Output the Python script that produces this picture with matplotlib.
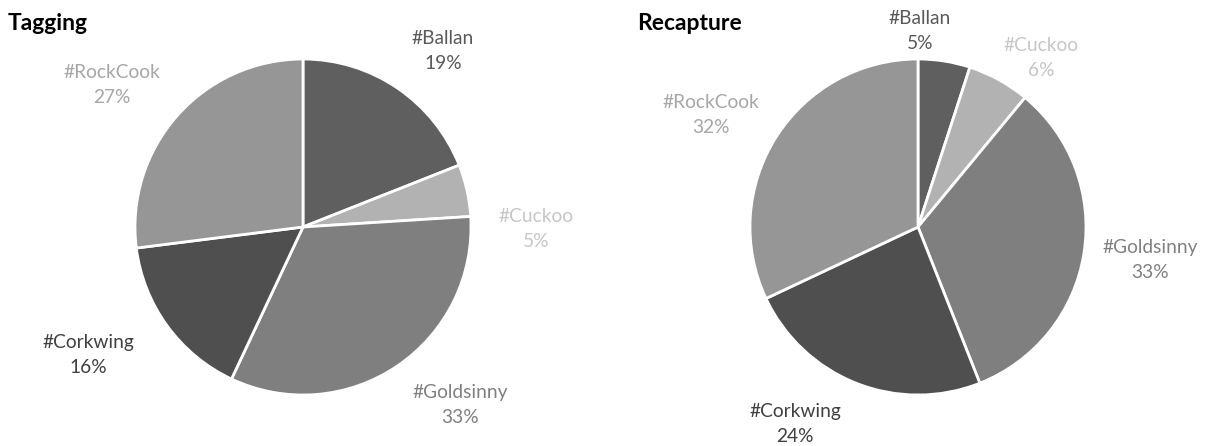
import matplotlib.pyplot as plt

# species shares (%) per sampling stage
species = ['#Ballan', '#Cuckoo', '#Goldsinny', '#Corkwing', '#RockCook']
tagging = [19, 5, 33, 16, 27]
recapture = [5, 6, 33, 24, 32]

slice_colors = ['#5f5f5f', '#b2b2b2', '#7f7f7f', '#4f4f4f', '#969696']
label_colors = ['#595959', '#c6c6c6', '#808080', '#404040', '#a6a6a6']

# label anchor points, in units of pie radius
tag_label_pos = [(0.833, 1.048), (1.387, -0.012), (0.935, -1.060),
                 (-1.280, -0.762), (-1.137, 0.845)]
rec_label_pos = [(0.012, 1.167), (0.732, 1.006), (1.381, -0.196),
                 (-0.732, -1.173), (-1.232, 0.667)]

plt.rcParams['font.family'] = ['Lato', 'DejaVu Sans']

W, H = 1206, 446
R = 168.0  # pie radius in pixels
fig = plt.figure(figsize=(W / 100, H / 100), dpi=100)


def draw_pie(x0, x1, cx, cy, values, label_pos, title, title_x):
    ax = fig.add_axes([x0 / W, 0, (x1 - x0) / W, 1])
    ax.pie(values, colors=slice_colors, startangle=90, counterclock=False,
           wedgeprops=dict(edgecolor='white', linewidth=2))
    ax.set_aspect('auto')
    ax.set_xlim((x0 - cx) / R, (x1 - cx) / R)
    ax.set_ylim((cy - H) / R, cy / R)
    for name, v, (lx, ly), c in zip(species, values, label_pos, label_colors):
        ax.text(lx, ly, f'{name}\n{v}%', ha='center', va='center',
                fontsize=13.8, color=c, linespacing=1.62)
    fig.text(title_x / W, 1 - 23 / H, title, fontsize=16.5, fontweight='bold',
             ha='left', va='center', color='black')


draw_pie(0, 603, 303, 227, tagging, tag_label_pos, 'Tagging', 8)
draw_pie(603, 1206, 918, 227, recapture, rec_label_pos, 'Recapture', 637)

fig.savefig('out.png', dpi=100)
